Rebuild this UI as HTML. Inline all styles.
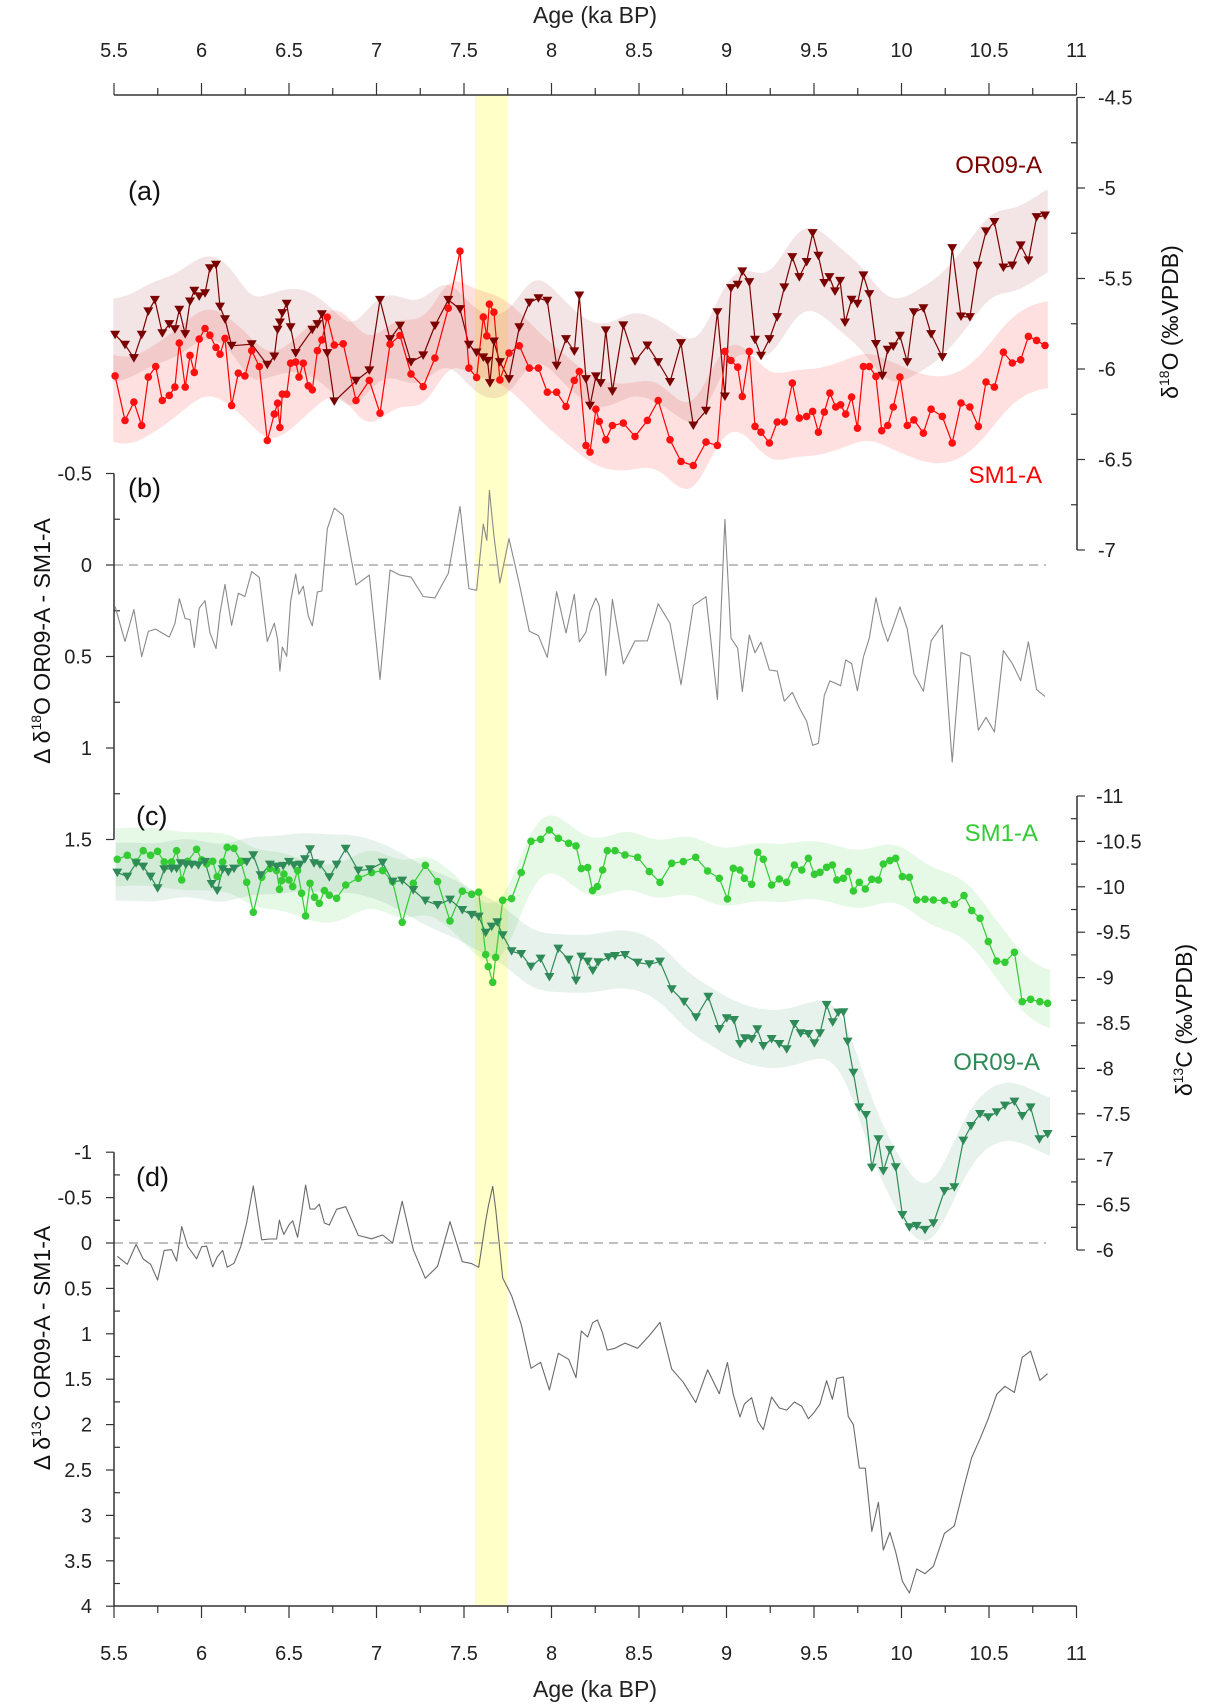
<!DOCTYPE html>
<html><head><meta charset="utf-8"><style>
html,body{margin:0;padding:0;background:#fff}
svg{display:block;font-family:"Liberation Sans",sans-serif}
</style></head><body>
<svg id="chart" width="1206" height="1704" viewBox="0 0 1206 1704" xmlns="http://www.w3.org/2000/svg">
<g id="bg"></g><g id="bands"></g><g id="axes"></g><g id="lines"></g><g id="marks"></g><g id="labels"></g>
</svg>
<script>
// ---- Panel (a) d18O ----
const orO_age=[5.506,5.563,5.614,5.658,5.696,5.734,5.776,5.816,5.848,5.873,5.907,5.934,5.959,5.987,6.020,6.048,6.083,6.106,6.134,6.172,6.287,6.376,6.416,6.435,6.448,6.462,6.487,6.509,6.538,6.633,6.662,6.688,6.719,6.759,6.883,6.959,7.020,7.077,7.134,7.197,7.267,7.334,7.410,7.477,7.528,7.572,7.610,7.635,7.648,7.671,7.705,7.757,7.816,7.873,7.925,7.976,8.029,8.083,8.130,8.159,8.197,8.220,8.254,8.281,8.310,8.348,8.410,8.477,8.548,8.610,8.677,8.740,8.810,8.883,8.948,8.991,9.026,9.064,9.090,9.130,9.163,9.197,9.245,9.290,9.330,9.376,9.416,9.458,9.492,9.525,9.559,9.588,9.620,9.649,9.677,9.715,9.748,9.782,9.816,9.854,9.890,9.921,9.953,9.991,10.033,10.071,10.125,10.169,10.233,10.290,10.340,10.391,10.435,10.483,10.531,10.582,10.633,10.681,10.725,10.772,10.820];
const orO_val=[-5.811,-5.866,-5.940,-5.811,-5.682,-5.618,-5.802,-5.752,-5.780,-5.673,-5.807,-5.627,-5.568,-5.599,-5.581,-5.443,-5.424,-5.655,-5.725,-5.872,-5.863,-5.977,-5.931,-5.783,-5.743,-5.691,-5.640,-5.769,-5.912,-5.783,-5.752,-5.697,-5.912,-6.179,-6.065,-6.008,-5.618,-5.835,-5.760,-5.962,-5.925,-5.760,-5.618,-5.669,-5.866,-5.909,-5.936,-5.955,-6.078,-5.848,-5.962,-6.056,-5.769,-5.633,-5.609,-5.623,-5.982,-5.835,-5.903,-5.594,-6.056,-6.203,-6.041,-6.078,-5.787,-6.124,-5.759,-5.958,-5.870,-5.962,-6.072,-5.857,-6.312,-6.231,-5.687,-6.152,-5.553,-5.535,-5.461,-5.520,-5.838,-5.927,-5.835,-5.713,-5.549,-5.382,-5.492,-5.409,-5.249,-5.374,-5.525,-5.492,-5.571,-5.513,-5.743,-5.617,-5.640,-5.483,-5.586,-5.862,-6.037,-5.894,-5.875,-5.816,-5.962,-5.687,-5.664,-5.807,-5.934,-5.332,-5.710,-5.713,-5.430,-5.240,-5.188,-5.439,-5.428,-5.317,-5.400,-5.161,-5.152];
const smO_age=[5.506,5.563,5.614,5.658,5.696,5.738,5.776,5.816,5.848,5.873,5.907,5.934,5.959,5.987,6.020,6.048,6.083,6.106,6.134,6.172,6.210,6.248,6.287,6.330,6.376,6.416,6.435,6.448,6.462,6.487,6.509,6.538,6.557,6.582,6.610,6.633,6.662,6.688,6.719,6.759,6.810,6.883,6.959,7.020,7.077,7.134,7.197,7.267,7.334,7.410,7.477,7.528,7.572,7.610,7.630,7.645,7.671,7.705,7.757,7.816,7.873,7.925,7.976,8.029,8.083,8.130,8.159,8.197,8.220,8.254,8.273,8.310,8.348,8.410,8.477,8.548,8.610,8.677,8.740,8.810,8.883,8.948,8.991,9.026,9.064,9.090,9.130,9.163,9.197,9.245,9.290,9.330,9.376,9.416,9.458,9.492,9.525,9.559,9.591,9.624,9.652,9.681,9.715,9.748,9.782,9.816,9.854,9.887,9.921,9.953,9.991,10.033,10.071,10.125,10.169,10.233,10.290,10.340,10.391,10.439,10.483,10.531,10.582,10.633,10.681,10.725,10.772,10.820];
const smO_val=[-6.038,-6.284,-6.183,-6.312,-6.045,-5.986,-6.174,-6.146,-6.100,-5.857,-6.100,-5.925,-6.019,-5.835,-5.776,-5.813,-5.881,-5.918,-5.831,-6.202,-6.023,-6.038,-5.899,-5.986,-6.395,-6.249,-6.189,-6.323,-6.139,-6.139,-5.968,-5.962,-6.045,-5.968,-6.093,-6.115,-5.899,-5.839,-5.714,-5.868,-5.861,-6.174,-6.063,-6.244,-5.863,-5.815,-6.028,-6.097,-5.940,-5.664,-5.349,-5.995,-6.047,-5.713,-5.817,-5.642,-5.686,-6.060,-5.912,-5.872,-5.995,-5.995,-6.128,-6.128,-6.207,-6.063,-6.014,-6.423,-6.459,-6.222,-6.290,-6.391,-6.312,-6.299,-6.373,-6.284,-6.174,-6.391,-6.511,-6.533,-6.404,-6.422,-5.903,-5.953,-5.990,-6.152,-5.903,-6.317,-6.349,-6.409,-6.293,-6.293,-6.078,-6.271,-6.262,-6.234,-6.349,-6.238,-6.133,-6.210,-6.198,-6.249,-6.155,-6.327,-5.986,-5.986,-6.041,-6.341,-6.312,-6.210,-6.045,-6.312,-6.281,-6.354,-6.222,-6.262,-6.409,-6.188,-6.210,-6.317,-6.072,-6.100,-5.907,-5.967,-5.949,-5.820,-5.842,-5.870];
// ---- Panel (c) d13C ----
const smC_age=[5.519,5.576,5.626,5.667,5.709,5.749,5.787,5.829,5.858,5.887,5.921,5.972,6.001,6.029,6.064,6.090,6.121,6.147,6.186,6.224,6.258,6.296,6.344,6.391,6.429,6.445,6.458,6.471,6.500,6.521,6.549,6.572,6.595,6.620,6.646,6.673,6.702,6.730,6.772,6.824,6.896,6.972,7.035,7.092,7.147,7.210,7.279,7.349,7.420,7.490,7.544,7.584,7.624,7.639,7.664,7.681,7.721,7.772,7.827,7.883,7.938,7.988,8.039,8.098,8.140,8.170,8.207,8.235,8.262,8.292,8.319,8.363,8.420,8.492,8.559,8.620,8.687,8.753,8.824,8.892,8.959,9.005,9.039,9.077,9.102,9.144,9.178,9.210,9.258,9.302,9.344,9.388,9.430,9.468,9.502,9.534,9.572,9.605,9.630,9.668,9.696,9.725,9.759,9.793,9.830,9.868,9.896,9.934,9.967,10.005,10.045,10.087,10.134,10.182,10.245,10.302,10.357,10.401,10.449,10.496,10.544,10.591,10.645,10.690,10.738,10.791,10.835];
const smC_val=[-10.303,-10.347,-10.274,-10.398,-10.347,-10.391,-10.274,-10.274,-10.398,-10.075,-10.281,-10.413,-10.296,-10.252,-10.281,-10.112,-10.274,-10.435,-10.424,-10.281,-10.050,-9.719,-10.105,-10.200,-10.178,-9.973,-10.068,-10.141,-10.075,-10.002,-10.178,-9.928,-9.679,-10.039,-9.884,-9.818,-9.958,-9.907,-9.873,-10.020,-10.094,-10.156,-10.178,-10.057,-9.609,-10.039,-10.237,-10.057,-9.624,-9.951,-9.917,-9.940,-9.253,-9.121,-8.948,-9.224,-9.851,-9.870,-10.156,-10.501,-10.523,-10.626,-10.534,-10.479,-10.450,-10.200,-10.211,-9.958,-10.002,-10.185,-10.398,-10.398,-10.351,-10.325,-10.167,-10.050,-10.259,-10.277,-10.325,-10.174,-10.094,-9.866,-10.204,-10.185,-10.094,-10.028,-10.380,-10.303,-10.020,-10.086,-10.050,-10.240,-10.185,-10.314,-10.138,-10.160,-10.215,-10.240,-10.075,-10.094,-10.167,-9.954,-10.050,-9.976,-10.083,-10.075,-10.251,-10.288,-10.314,-10.112,-10.105,-9.855,-9.862,-9.855,-9.848,-9.807,-9.903,-9.738,-9.653,-9.396,-9.183,-9.168,-9.279,-8.735,-8.761,-8.735,-8.717];
const orC_age=[5.519,5.576,5.626,5.667,5.709,5.749,5.787,5.829,5.858,5.881,5.911,5.944,5.982,6.020,6.058,6.090,6.121,6.153,6.186,6.258,6.296,6.338,6.391,6.429,6.467,6.500,6.528,6.563,6.591,6.620,6.643,6.677,6.730,6.772,6.824,6.896,6.963,7.035,7.092,7.147,7.210,7.279,7.349,7.420,7.490,7.544,7.584,7.624,7.658,7.690,7.721,7.772,7.827,7.883,7.938,7.988,8.039,8.098,8.140,8.170,8.207,8.236,8.267,8.325,8.363,8.420,8.492,8.559,8.620,8.687,8.757,8.826,8.896,8.959,9.001,9.043,9.077,9.106,9.144,9.176,9.210,9.258,9.302,9.344,9.388,9.424,9.468,9.502,9.534,9.572,9.607,9.639,9.668,9.692,9.725,9.759,9.797,9.830,9.868,9.896,9.934,9.967,10.005,10.045,10.087,10.134,10.182,10.245,10.302,10.353,10.397,10.449,10.496,10.544,10.591,10.645,10.690,10.738,10.788,10.835];
const orC_val=[-10.156,-10.112,-10.259,-10.222,-10.112,-9.984,-10.193,-10.200,-10.200,-10.259,-10.244,-10.244,-10.237,-10.274,-10.031,-9.958,-10.193,-10.163,-10.200,-10.274,-10.347,-10.127,-10.244,-10.222,-10.230,-10.274,-10.237,-10.244,-10.303,-10.413,-10.259,-10.244,-10.105,-10.244,-10.420,-10.178,-10.193,-10.266,-10.057,-10.068,-9.965,-9.848,-9.800,-9.859,-9.745,-9.690,-9.672,-9.495,-9.562,-9.609,-9.466,-9.290,-9.260,-9.121,-9.209,-9.007,-9.319,-9.198,-8.967,-9.231,-9.176,-9.077,-9.169,-9.224,-9.238,-9.249,-9.165,-9.147,-9.176,-8.871,-8.735,-8.563,-8.790,-8.434,-8.552,-8.533,-8.269,-8.331,-8.324,-8.431,-8.247,-8.324,-8.269,-8.210,-8.489,-8.387,-8.379,-8.276,-8.387,-8.699,-8.508,-8.614,-8.618,-8.295,-7.953,-7.571,-7.487,-6.907,-7.219,-6.870,-7.102,-6.911,-6.386,-6.250,-6.265,-6.221,-6.294,-6.650,-6.691,-7.205,-7.366,-7.498,-7.462,-7.517,-7.590,-7.634,-7.476,-7.571,-7.219,-7.278];
const xTicks=[5.5,6,6.5,7,7.5,8,8.5,9,9.5,10,10.5,11];
const aTicks=[-4.5,-5,-5.5,-6,-6.5,-7];
const bTicks=[-0.5,0,0.5,1,1.5];
const cTicks=[-11,-10.5,-10,-9.5,-9,-8.5,-8,-7.5,-7,-6.5,-6];
const dTicks=[-1,-0.5,0,0.5,1,1.5,2,2.5,3,3.5,4];

const NS='http://www.w3.org/2000/svg';
const X=a=>114+(a-5.5)*175;
const Ya=v=>369-(v+6)*181;
const Yb=v=>565+v*183;
const Yc=v=>1250+(v+6)*90.8;
const Yd=v=>1243+v*90.8;
function mk(parent,tag,attrs){const e=document.createElementNS(NS,tag);for(const k in attrs)e.setAttribute(k,attrs[k]);document.getElementById(parent).appendChild(e);return e;}
function interp(ax,av,a){if(a<=ax[0])return av[0];for(let i=1;i<ax.length;i++){if(a<=ax[i]){const t=(a-ax[i-1])/(ax[i]-ax[i-1]);return av[i-1]+t*(av[i]-av[i-1]);}}return av[av.length-1];}
function smooth(ax,av,a,s){let sw=0,sv=0;for(let i=0;i<ax.length;i++){const w=Math.exp(-((ax[i]-a)**2)/(2*s*s));sw+=w;sv+=w*av[i];}return sv/sw;}
function band(ax,av,Y,w,s,fill,name){
  const a0=ax[0]-0.01,a1=ax[ax.length-1]+0.03;const up=[],lo=[];
  for(let a=a0;a<=a1+1e-9;a+=0.02){const m=smooth(ax,av,a,s);up.push(X(a).toFixed(1)+','+Y(m+w).toFixed(1));lo.unshift(X(a).toFixed(1)+','+Y(m-w).toFixed(1));}
  const p=mk('bands','polygon',{points:up.concat(lo).join(' '),fill:fill});
  
  
}
function line(ax,av,Y,color,wd,name){
  const pts=ax.map((a,i)=>X(a).toFixed(1)+','+Y(av[i]).toFixed(1)).join(' ');
  const p=mk('lines','polyline',{points:pts,fill:'none',stroke:color,'stroke-width':wd,'stroke-linejoin':'round'});
  
  
}
function circles(ax,av,Y,color,name){
  ax.forEach((a,i)=>{const c=mk('marks','circle',{cx:X(a).toFixed(1),cy:Y(av[i]).toFixed(1),r:3.8,fill:color});
  
  });
}
function tris(ax,av,Y,color,name){
  ax.forEach((a,i)=>{const x=X(a),y=Y(av[i]);const t=mk('marks','polygon',{points:`${(x-5).toFixed(1)},${(y-4).toFixed(1)} ${(x+5).toFixed(1)},${(y-4).toFixed(1)} ${x.toFixed(1)},${(y+4.5).toFixed(1)}`,fill:color});
  
  });
}
function txt(s,x,y,opts,name){const t=mk('labels','text',Object.assign({x:x,y:y},opts));t.textContent=s;
  
  return t;}
function ln(x1,y1,x2,y2,st,w,name){const l=mk('axes','line',{x1:x1,y1:y1,x2:x2,y2:y2,stroke:st,'stroke-width':w});
  
  return l;}

const hl=mk('bg','rect',{x:X(7.563),y:95,width:X(7.75)-X(7.563),height:1511,fill:'#ffffc8'});



band(orO_age,orO_val,Ya,0.23,0.1,'rgba(170,70,70,0.14)','or09-d18o-envelope');
band(smO_age,smO_val,Ya,0.24,0.1,'rgba(245,50,50,0.15)','sm1-d18o-envelope');
band(smC_age,smC_val,Yc,0.32,0.1,'rgba(60,200,60,0.13)','sm1-d13c-envelope');
band(orC_age,orC_val,Yc,0.32,0.1,'rgba(46,139,87,0.11)','or09-d13c-envelope');

const dO=smO_age.map((a,i)=>interp(orO_age,orO_val,a)-smO_val[i]);
const dC=smC_age.map((a,i)=>interp(orC_age,orC_val,a)-smC_val[i]);
line(smO_age,dO,Yb,'#8a8a8a',1.1,'d18o-difference-line');
line(smC_age,dC,Yd,'#6a6a6a',1.1,'d13c-difference-line');

line(orO_age,orO_val,Ya,'#7b0000',1.2,'or09-d18o-line');
line(smO_age,smO_val,Ya,'#ff0000',1.2,'sm1-d18o-line');
line(smC_age,smC_val,Yc,'#33cc33',1.2,'sm1-d13c-line');
line(orC_age,orC_val,Yc,'#2e8b57',1.2,'or09-d13c-line');
tris(orO_age,orO_val,Ya,'#7b0000','or09-d18o-point');
circles(smO_age,smO_val,Ya,'#ff1010','sm1-d18o-point');
circles(smC_age,smC_val,Yc,'#33cc33','sm1-d13c-point');
tris(orC_age,orC_val,Yc,'#2e8b57','or09-d13c-point');

const z1=ln(114,Yb(0),1046,Yb(0),'#aaa',1.5,'zero-line-b');z1.setAttribute('stroke-dasharray','9,6');
const z2=ln(114,Yd(0),1046,Yd(0),'#aaa',1.5,'zero-line-d');z2.setAttribute('stroke-dasharray','9,6');

const AX='#333', FS=20;
ln(114,95,X(11),95,AX,1.5,'top-x-axis');
ln(114,1606,X(11),1606,AX,1.5,'bottom-x-axis');
for(let a=5.5;a<=11.001;a+=0.25){const maj=Math.abs(a*2-Math.round(a*2))<1e-6;
  ln(X(a),95,X(a),95-(maj?12:7),AX,1.2,'top-x-tick');ln(X(a),1606,X(a),1606+(maj?12:7),AX,1.2,'bottom-x-tick');}
xTicks.forEach(a=>{txt(String(a),X(a),57,{'font-size':FS,'text-anchor':'middle',fill:'#222'},'top-x-tick-label');
  txt(String(a),X(a),1660,{'font-size':FS,'text-anchor':'middle',fill:'#222'},'bottom-x-tick-label');});
txt('Age (ka BP)',595,23,{'font-size':23,'text-anchor':'middle',fill:'#222'},'top-x-axis-title');
txt('Age (ka BP)',595,1697,{'font-size':23,'text-anchor':'middle',fill:'#222'},'bottom-x-axis-title');

function vaxis(x,Y,ticks,side,name,labx){
  const t0=ticks[0],t1=ticks[ticks.length-1];ln(x,Y(t0),x,Y(t1),AX,1.5,name);
  const lo=Math.min(t0,t1),hi=Math.max(t0,t1);
  for(let v=lo;v<=hi+1e-9;v+=0.25){const maj=Math.abs(v*2-Math.round(v*2))<1e-6;
    const d=maj?8*side:-6*side;ln(x,Y(v),x+d,Y(v),AX,1.2,name+'-tick');}
  ticks.forEach(v=>txt(String(v),labx,Y(v)+7,{'font-size':FS,'text-anchor':side>0?'start':'end',fill:'#222'},name+'-label'));
}
vaxis(1077,Ya,aTicks,1,'d18o-right-axis',1098);
vaxis(114,Yb,bTicks,-1,'d18o-diff-left-axis',92);
vaxis(1077,Yc,cTicks,1,'d13c-right-axis',1096);
vaxis(114,Yd,dTicks,-1,'d13c-diff-left-axis',92);

txt('(a)',128,200,{'font-size':27,fill:'#111'},'panel-label-a');
txt('(b)',128,497,{'font-size':27,fill:'#111'},'panel-label-b');
txt('(c)',136,825,{'font-size':27,fill:'#111'},'panel-label-c');
txt('(d)',136,1186,{'font-size':27,fill:'#111'},'panel-label-d');
txt('OR09-A',1042,173,{'font-size':24,'text-anchor':'end',fill:'#7b0000'},'or09-d18o-legend');
txt('SM1-A',1042,483,{'font-size':24,'text-anchor':'end',fill:'#ff0000'},'sm1-d18o-legend');
txt('SM1-A',1038,841,{'font-size':24,'text-anchor':'end',fill:'#33cc33'},'sm1-d13c-legend');
txt('OR09-A',1040,1070,{'font-size':24,'text-anchor':'end',fill:'#2e8b57'},'or09-d13c-legend');

function rtitle(x,y,pre,sup,post,name){
  const t=mk('labels','text',{x:0,y:0,transform:`translate(${x},${y}) rotate(-90)`,'font-size':23,'text-anchor':'middle',fill:'#111'});
  
  
  const a=document.createElementNS(NS,'tspan');a.textContent=pre;t.appendChild(a);
  const b=document.createElementNS(NS,'tspan');b.textContent=sup;b.setAttribute('font-size','14');b.setAttribute('dy','-9');t.appendChild(b);
  const c=document.createElementNS(NS,'tspan');c.textContent=post;c.setAttribute('dy','9');t.appendChild(c);
}
rtitle(1178,322,'δ','18','O (‰VPDB)','d18o-axis-title');
rtitle(1192,1020,'δ','13','C (‰VPDB)','d13c-axis-title');
rtitle(50,641,'Δ δ','18','O OR09-A - SM1-A','d18o-diff-axis-title');
rtitle(50,1348,'Δ δ','13','C OR09-A - SM1-A','d13c-diff-axis-title');
</script>
</body></html>
